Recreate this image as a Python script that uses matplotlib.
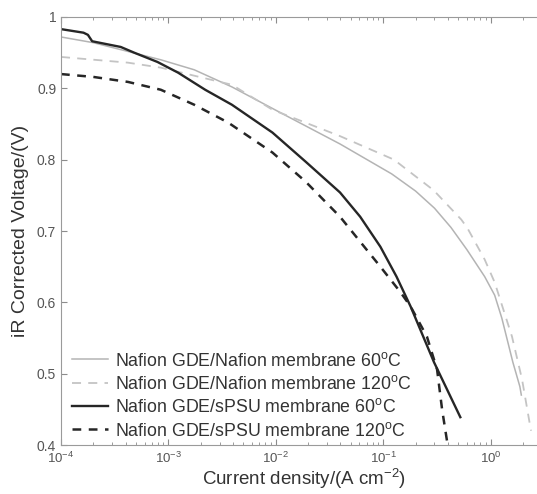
import matplotlib
matplotlib.use("Agg")
import matplotlib.pyplot as plt
from matplotlib.ticker import LogLocator, FixedLocator, FixedFormatter, NullFormatter

plt.rcParams['font.family'] = ['Liberation Sans', 'DejaVu Sans']
plt.rcParams['mathtext.default'] = 'regular'

# Nafion GDE / Nafion membrane 60 C
naf60_j = [1.0e-4, 2.0e-4, 8.5e-4, 1.74e-3, 3.9e-3, 1.1e-2, 3.96e-2, 0.12, 0.2, 0.3, 0.427, 0.6, 0.88, 1.09, 1.27, 1.61, 1.87, 1.93]
naf60_v = [0.972, 0.964, 0.940, 0.926, 0.902, 0.866, 0.822, 0.780, 0.756, 0.732, 0.705, 0.674, 0.636, 0.610, 0.578, 0.516, 0.482, 0.470]

# Nafion GDE / Nafion membrane 120 C
naf120_j = [1.0e-4, 4.2e-4, 8.5e-4, 3.9e-3, 9.3e-3, 3.96e-2, 0.126, 0.166, 0.295, 0.533, 0.608, 0.88, 1.09, 1.58, 1.96, 2.33, 2.38]
naf120_v = [0.944, 0.936, 0.929, 0.905, 0.870, 0.833, 0.800, 0.786, 0.757, 0.716, 0.704, 0.660, 0.628, 0.552, 0.492, 0.427, 0.420]

# Nafion GDE / sPSU membrane 60 C
spsu60_j = [1.0e-4, 1.62e-4, 1.78e-4, 1.95e-4, 3.6e-4, 4.8e-4, 7.9e-4, 1.23e-3, 2.2e-3, 3.9e-3, 9.3e-3, 1.9e-2, 3.96e-2, 6.1e-2, 9.4e-2, 0.133, 0.18, 0.297, 0.522]
spsu60_v = [0.983, 0.978, 0.975, 0.966, 0.958, 0.950, 0.937, 0.922, 0.898, 0.877, 0.838, 0.797, 0.754, 0.720, 0.678, 0.636, 0.594, 0.516, 0.439]

# Nafion GDE / sPSU membrane 120 C
spsu120_j = [1.0e-4, 2.0e-4, 4.2e-4, 8.5e-4, 1.74e-3, 3.6e-3, 9.3e-3, 1.9e-2, 3.96e-2, 6.1e-2, 9.4e-2, 0.145, 0.18, 0.255, 0.317, 0.353, 0.394]
spsu120_v = [0.920, 0.916, 0.909, 0.898, 0.877, 0.852, 0.810, 0.769, 0.720, 0.685, 0.650, 0.614, 0.594, 0.552, 0.506, 0.450, 0.404]

labels = ['Nafion GDE/Nafion membrane 60$^{o}$C',
          'Nafion GDE/Nafion membrane 120$^{o}$C',
          'Nafion GDE/sPSU membrane 60$^{o}$C',
          'Nafion GDE/sPSU membrane 120$^{o}$C']

yticks = [0.4, 0.5, 0.6, 0.7, 0.8, 0.9, 1.0]
ytick_labels = ['0.4', '0.5', '0.6', '0.7', '0.8', '0.9', '1']
xticks = [1e-4, 1e-3, 1e-2, 1e-1, 1e0]
xtick_labels = ['$10^{-4}$', '$10^{-3}$', '$10^{-2}$', '$10^{-1}$', '$10^{0}$']

fig = plt.figure(figsize=(5.37, 4.94), dpi=100)
ax = fig.add_axes([61/537, 1 - 445/494, 1 - 61/537 + 0.02, (445 - 17)/494])

ax.plot(naf60_j, naf60_v, color='#b4b4b4', lw=1.1, ls='-', label=labels[0])
ax.plot(naf120_j, naf120_v, color='#c4c4c4', lw=1.3, ls=(0, (5, 4)), label=labels[1])
ax.plot(spsu60_j, spsu60_v, color='#262626', lw=1.7, ls='-', label=labels[2])
ax.plot(spsu120_j, spsu120_v, color='#262626', lw=1.8, ls=(0, (3.5, 3)), label=labels[3])

ax.set_xscale('log')
ax.set_xlim(1e-4, 3.4)
ax.set_ylim(0.4, 1.0)

ax.xaxis.set_major_locator(FixedLocator(xticks))
ax.xaxis.set_major_formatter(FixedFormatter(xtick_labels))
ax.xaxis.set_minor_locator(LogLocator(base=10, subs=range(2, 10), numticks=20))
ax.xaxis.set_minor_formatter(NullFormatter())
ax.yaxis.set_major_locator(FixedLocator(yticks))
ax.yaxis.set_major_formatter(FixedFormatter(ytick_labels))

ax.tick_params(axis='both', which='both', direction='in', top=True, right=False,
               colors='#8c8c8c', labelcolor='#555555', labelsize=10)
ax.tick_params(axis='x', labelsize=9.5, pad=4)
ax.tick_params(which='major', length=4)
ax.tick_params(which='minor', length=2)
for s in ['left', 'bottom', 'top']:
    ax.spines[s].set_color('#9a9a9a')
ax.spines['right'].set_visible(False)

ax.set_xlabel('Current density/(A cm$^{-2}$)', fontsize=13.5, color='#333333', labelpad=1)
ax.set_ylabel('iR Corrected Voltage/(V)', fontsize=14, color='#333333', labelpad=6)

leg = ax.legend(loc='lower left', frameon=False, fontsize=12.8, handlelength=2.0,
                handletextpad=0.4, labelspacing=0.3, borderaxespad=0.1, borderpad=0.2,
                bbox_to_anchor=(0.012, 0.0))
for t in leg.get_texts():
    t.set_color('#333333')

fig.savefig('out.png', dpi=100)
